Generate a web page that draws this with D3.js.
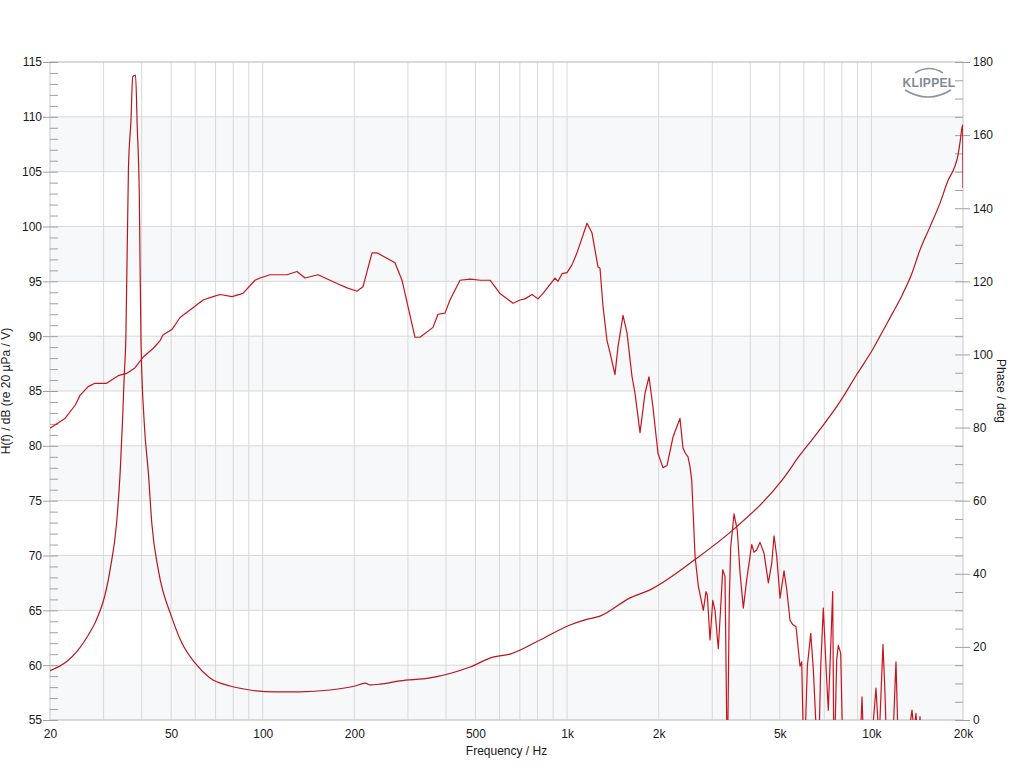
<!DOCTYPE html>
<html>
<head>
<meta charset="utf-8">
<script src="https://cdn.jsdelivr.net/npm/d3@7"></script>
<style>
  body { margin: 0; background: #fff; }
  text { font-family: "Liberation Sans", Arial, sans-serif; }
</style>
</head>
<body>
<div id="chart"></div>
<script>
// frequency ticks
const freqTicks = [20, 50, 100, 200, 500, 1000, 2000, 5000, 10000, 20000];
const freqLabels = ["20", "50", "100", "200", "500", "1k", "2k", "5k", "10k", "20k"];
const dbTicks = [55, 60, 65, 70, 75, 80, 85, 90, 95, 100, 105, 110, 115];
const phaseTicks = [0, 20, 40, 60, 80, 100, 120, 140, 160, 180];

// SPL response (left axis)
const splFreq = [20, 22.4, 24.2, 25.1, 26.7, 28.1, 30.7, 33.5, 35.7, 38, 40.5, 43.7, 46, 47, 50.3, 53.5, 59, 63.7, 68.7, 72.4,
  79.3, 86.1, 94.3, 98, 105.7, 120.2, 129.6, 137.7, 152, 175.5, 189.3, 204, 213.5, 228.6, 237.4, 272, 286.8, 300.2, 316.5, 328.7,
  362.7, 376.6, 397.1, 412.4, 444.9, 480, 520, 558.3, 602, 664.3, 700.5, 727.4, 767, 802.6, 833.7, 913, 934, 962.8, 999.7, 1038,
  1078, 1163, 1208, 1264, 1283, 1313, 1353, 1384, 1437, 1470, 1527, 1574, 1635, 1672, 1737, 1804, 1859, 1916, 1990, 2067,
  2130, 2229, 2350, 2404, 2450, 2497, 2535, 2568, 2600, 2634, 2700, 2804, 2862, 2890, 2950, 3011, 3063, 3140, 3198, 3247,
  3304, 3362, 3414, 3450, 3537, 3626, 3702, 3795, 3894, 4043, 4114, 4198, 4306, 4439, 4586, 4705, 4788, 4887, 5010, 5164,
  5270, 5403, 5514, 5654, 5828, 5903, 6007, 6160, 6320, 6445, 6693, 6816, 6951, 7132, 7218, 7351, 7462, 7536, 7692, 7785,
  7928, 8085, 8507, 9100, 9315, 9500, 9888, 10354, 10600, 10917, 11085, 11300, 11800, 12046, 12321, 13000, 13597, 13800, 14016, 14200,
  14447, 14700, 20000];
const splDb = [81.6, 82.5, 83.7, 84.6, 85.4, 85.7, 85.7, 86.4, 86.6, 87.1, 88.1, 88.9, 89.6, 90.1, 90.6, 91.7, 92.6, 93.3, 93.6, 93.8,
  93.6, 93.9, 95.1, 95.3, 95.6, 95.6, 95.9, 95.3, 95.6, 94.8, 94.4, 94.1, 94.5, 97.6, 97.6, 96.7, 95.1, 92.7, 89.9, 89.9,
  90.8, 92, 92.1, 93.3, 95.1, 95.2, 95.1, 95.1, 93.9, 93, 93.3, 93.4, 93.8, 93.4, 93.9, 95.3, 95, 95.7, 95.8, 96.5,
  97.6, 100.3, 99.4, 96.3, 96.2, 92.7, 89.6, 88.5, 86.5, 89, 91.9, 90.3, 86.3, 84.8, 81.2, 84.8, 86.3, 83.5, 79.3, 78,
  78.2, 80.8, 82.5, 79.8, 79.3, 79, 78.1, 76.9, 73.5, 69.9, 67.2, 65, 66.7, 66.4, 62.3, 65.9, 65, 61.5, 65.3, 68.7,
  68.1, 50, 66.2, 70.8, 73.8, 72.3, 68.4, 65.2, 67.8, 71, 70.3, 70.5, 71.2, 70.2, 67.5, 69.3, 71.8, 69.9, 66.1, 68.6,
  66.9, 64.1, 63.7, 63.5, 59.9, 60.3, 50, 59.9, 62.9, 59.6, 50, 59.9, 65.2, 58.6, 55.9, 61.7, 66.7, 50, 60.5, 61.8,
  61.1, 50, 50, 50, 57.1, 50, 51, 57.9, 53, 61.9, 57.4, 50, 54, 60.3, 50, 52, 55.9, 54, 55.6, 53,
  55.3, 50, 48];

// phase (right axis)
const phaseFreq = [20, 22.7, 24.5, 27.06, 28.1, 31.5, 33.1, 34, 34.6, 35.1, 35.5, 36.2, 36.9, 37.4, 38.2, 38.7, 39.3, 39.8, 40.8, 42.1,
  43.2, 45.4, 50.2, 54.2, 59.9, 67.1, 78.1, 90.8, 109.8, 132.6, 166.4, 201, 216.9, 225.2, 242.9, 282.5, 354.8, 480, 571, 649.6,
  815, 1023, 1146, 1283, 1611, 1873, 2674, 3510, 5087, 5827, 6782, 7890, 8950, 10120, 10917, 11776, 12580, 13564, 14447, 15580,
  16803, 17847, 18815, 19257, 19550, 19960, 20000];
const phaseDeg = [13.5, 16, 18.7, 24, 26.5, 41, 53.9, 67.6, 81.3, 94.9, 104, 150.5, 164, 176, 176.4, 162.3, 144, 104, 81.3, 67.6,
  53.9, 41, 28.2, 21.1, 15.6, 11.5, 9.3, 8.2, 7.7, 7.7, 8.2, 9.3, 10.1, 9.6, 9.8, 10.7, 11.5, 14.5, 17.2, 18,
  21.9, 26, 27.4, 28.4, 33.4, 35.6, 44.3, 52, 65.6, 72.5, 79.5, 87.1, 94.5, 101.5, 106.5, 111.5, 116, 122, 128.6, 134.9,
  141.4, 147.5, 151.5, 154.5, 158, 162.8, 145.5];

const width = 1013, height = 771;
const margin = { top: 62, right: 50, bottom: 51, left: 50 };
const x0 = margin.left, x1 = width - margin.right, y0 = margin.top, y1 = height - margin.bottom;

const svg = d3.select("#chart").append("svg")
  .attr("width", width)
  .attr("height", height);

const x = d3.scaleLog().domain([20, 20000]).range([x0, x1]);
const y = d3.scaleLinear().domain([55, 115]).range([y1, y0]);
const yPhase = d3.scaleLinear().domain([0, 180]).range([y1, y0]);

// shaded bands
svg.append("g")
  .selectAll("rect")
  .data(d3.range(55, 115, 10))
  .enter().append("rect")
    .attr("x", x0)
    .attr("width", x1 - x0)
    .attr("y", d => y(d + 5))
    .attr("height", d => y(d) - y(d + 5))
    .attr("fill", "#f7f8fa");

// grid
const gridFreqs = [];
[10, 100, 1000, 10000].forEach(dec => {
  for (let m = 1; m <= 9; m++) {
    const f = m * dec;
    if (f > 20 && f < 20000) gridFreqs.push(f);
  }
});
svg.append("g")
  .selectAll("line")
  .data(gridFreqs)
  .enter().append("line")
    .attr("x1", d => x(d)).attr("x2", d => x(d))
    .attr("y1", y0).attr("y2", y1)
    .attr("stroke", "#d9d9d9");
svg.append("g")
  .selectAll("line")
  .data(dbTicks)
  .enter().append("line")
    .attr("x1", x0).attr("x2", x1)
    .attr("y1", d => y(d)).attr("y2", d => y(d))
    .attr("stroke", "#d9d9d9");
svg.append("rect")
  .attr("x", x0).attr("y", y0)
  .attr("width", x1 - x0).attr("height", y1 - y0)
  .attr("fill", "none").attr("stroke", "#c8c8c8");

// axes
function styleAxis(g) {
  g.select(".domain").remove();
  g.selectAll(".tick line").attr("stroke", "#a0a0a0");
  g.selectAll(".tick text").attr("fill", "#1a1a1a").style("font-size", "12px");
}

svg.append("g")
  .attr("transform", `translate(${x0},0)`)
  .call(d3.axisLeft(y).tickValues(d3.range(55, 116)).tickSize(-8).tickFormat(""))
  .call(styleAxis);
svg.append("g")
  .attr("transform", `translate(${x0},0)`)
  .call(d3.axisLeft(y).tickValues(dbTicks).tickSize(7).tickPadding(1))
  .call(styleAxis);

svg.append("g")
  .attr("transform", `translate(${x1},0)`)
  .call(d3.axisRight(yPhase).tickValues(d3.range(0, 181, 5)).tickSize(-8).tickFormat(""))
  .call(styleAxis);
svg.append("g")
  .attr("transform", `translate(${x1},0)`)
  .call(d3.axisRight(yPhase).tickValues(phaseTicks).tickSize(7).tickPadding(3))
  .call(styleAxis);

svg.append("g")
  .attr("transform", `translate(0,${y1})`)
  .call(d3.axisBottom(x).tickValues(freqTicks).tickSize(0).tickPadding(9)
    .tickFormat((d, i) => freqLabels[i]))
  .call(styleAxis);

// axis titles
svg.append("text")
  .attr("x", (x0 + x1) / 2).attr("y", 755)
  .attr("text-anchor", "middle")
  .style("font-size", "12px").attr("fill", "#1a1a1a")
  .text("Frequency / Hz");
svg.append("text")
  .attr("transform", `translate(10,${(y0 + y1) / 2}) rotate(-90)`)
  .attr("text-anchor", "middle")
  .style("font-size", "12px").attr("fill", "#1a1a1a")
  .text("H(f) / dB (re 20 µPa / V)");
svg.append("text")
  .attr("transform", `translate(997,${(y0 + y1) / 2}) rotate(90)`)
  .attr("text-anchor", "middle")
  .style("font-size", "12px").attr("fill", "#1a1a1a")
  .text("Phase / deg");

// curves
svg.append("clipPath").attr("id", "plot-clip")
  .append("rect")
    .attr("x", x0).attr("y", y0)
    .attr("width", x1 - x0).attr("height", y1 - y0);

const plot = svg.append("g").attr("clip-path", "url(#plot-clip)");

const splLine = d3.line()
  .x((d, i) => x(splFreq[i]))
  .y(d => y(d));
const phaseLine = d3.line()
  .x((d, i) => x(phaseFreq[i]))
  .y(d => yPhase(d))
  .curve(d3.curveMonotoneX);

plot.append("path")
  .attr("d", phaseLine(phaseDeg))
  .attr("fill", "none")
  .attr("stroke", "#b8161c")
  .attr("stroke-width", 1.2);
plot.append("path")
  .attr("d", splLine(splDb))
  .attr("fill", "none")
  .attr("stroke", "#c8141c")
  .attr("stroke-width", 1.2)
  .attr("stroke-linejoin", "round");

// logo
const logo = svg.append("g").attr("transform", "translate(929,82)");
logo.append("path")
  .attr("d", "M-14,-9 Q0,-18 14,-9")
  .attr("fill", "none").attr("stroke", "#8a959e").attr("stroke-width", 1.5);
logo.append("path")
  .attr("d", "M-24,8 Q-1,22 22,8")
  .attr("fill", "none").attr("stroke", "#8a959e").attr("stroke-width", 1.5);
logo.append("text")
  .attr("x", 0).attr("y", 5)
  .attr("text-anchor", "middle")
  .style("font-size", "12px").style("font-weight", "bold")
  .style("letter-spacing", "0.3px")
  .attr("fill", "#7f8a93")
  .text("KLIPPEL");
</script>
</body>
</html>
